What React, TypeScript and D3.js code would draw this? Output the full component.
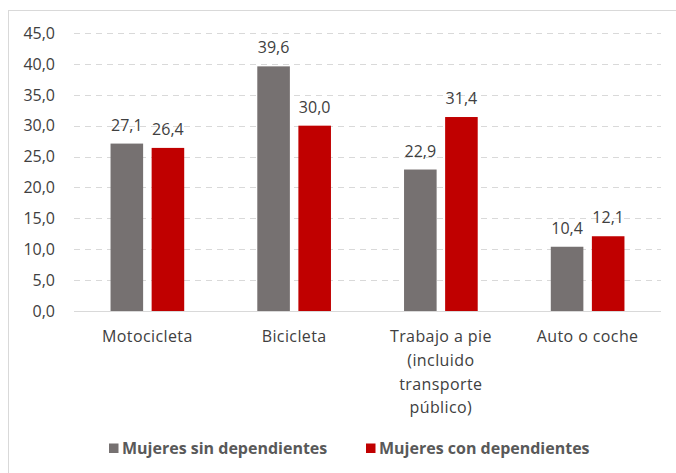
import React from "react";
import * as d3 from "d3";

const categories: string[][] = [
  ["Motocicleta"],
  ["Bicicleta"],
  ["Trabajo a pie", "(incluido", "transporte", "público)"],
  ["Auto o coche"],
];
const seriesNames = ["Mujeres sin dependientes", "Mujeres con dependientes"];
const sinDependientes = [27.1, 39.6, 22.9, 10.4];
const conDependientes = [26.4, 30.0, 31.4, 12.1];
const yTicks = [0, 5, 10, 15, 20, 25, 30, 35, 40, 45];
const colors = ["#767171", "#C00000"];

const W = 676;
const H = 473;
const FONT = "'Open Sans', 'Liberation Sans', sans-serif";

export default function App() {
  const left = 74;
  const right = 661;
  const top = 33;
  const bottom = 311;
  const y = d3.scaleLinear().domain([0, 45]).range([bottom, top]);
  const x = d3
    .scaleBand<number>()
    .domain(d3.range(categories.length))
    .range([left, right])
    .paddingInner(0)
    .paddingOuter(0);
  const bw = x.bandwidth();
  const barW = bw * 0.222;
  const gap = bw * 0.058;
  const fmt = (v: number) => v.toFixed(1).replace(".", ",");
  const series = [sinDependientes, conDependientes];

  return (
    <svg
      width={W}
      height={H}
      style={{ position: "absolute", left: 0, top: 0, background: "#fff" }}
      fontFamily={FONT}
    >
      <rect x={8.5} y={10.5} width={W} height={H} fill="#fff" stroke="#d9d9d9" strokeWidth={1} />
      {yTicks.map((t) => (
        <g key={t}>
          {t !== 0 && (
            <line
              x1={left}
              x2={right}
              y1={Math.round(y(t)) + 0.5}
              y2={Math.round(y(t)) + 0.5}
              stroke="#d9d9d9"
              strokeWidth={1}
              strokeDasharray="6,5"
            />
          )}
          <text
            x={55}
            y={y(t)}
            dy="0.36em"
            textAnchor="end"
            fontSize={16}
            fill="#404040"
          >
            {fmt(t)}
          </text>
        </g>
      ))}
      {categories.map((c, i) => {
        const cx = (x(i) as number) + bw / 2;
        return (
          <g key={i}>
            {series.map((s, j) => {
              const bx = j === 0 ? cx - gap / 2 - barW : cx + gap / 2;
              const v = s[i];
              return (
                <g key={j}>
                  <rect
                    x={bx}
                    y={y(v)}
                    width={barW}
                    height={y(0) - y(v)}
                    fill={colors[j]}
                  />
                  <text
                    x={bx + barW / 2}
                    y={y(v) - 13}
                    textAnchor="middle"
                    fontSize={16}
                    fill="#404040"
                  >
                    {fmt(v)}
                  </text>
                </g>
              );
            })}
            {c.map((line, k) => (
              <text
                key={k}
                x={cx}
                y={342 + k * 23.8}
                textAnchor="middle"
                fontSize={16}
                letterSpacing={0.4}
                fill="#404040"
              >
                {line}
              </text>
            ))}
          </g>
        );
      })}
      <line x1={left} x2={right} y1={bottom + 0.5} y2={bottom + 0.5} stroke="#d9d9d9" strokeWidth={1} />
      {seriesNames.map((n, j) => {
        const lx = j === 0 ? 109 : 366;
        return (
          <g key={n}>
            <rect x={lx} y={443.5} width={9.5} height={9.5} fill={colors[j]} />
            <text x={lx + 13} y={454} fontSize={16} fontWeight="bold" fill="#595959">
              {n}
            </text>
          </g>
        );
      })}
    </svg>
  );
}
